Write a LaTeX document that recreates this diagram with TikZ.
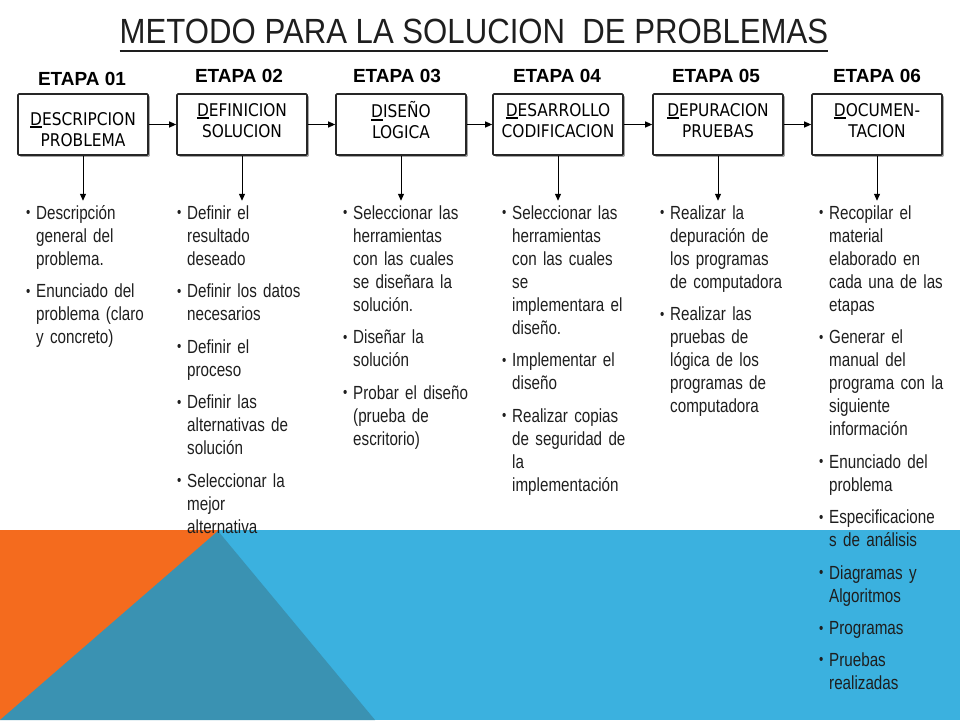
\documentclass[tikz,border=0pt]{standalone}
\usepackage{fontspec}
\setmainfont{Liberation Sans}
\newfontfamily\titlefont[FakeStretch=0.89]{Liberation Sans}
\newfontfamily\listfont[FakeStretch=0.8]{Liberation Sans}
\newfontfamily\boxfont[FakeStretch=0.88]{DejaVu Sans}
\usetikzlibrary{arrows.meta,positioning,shadows}

\definecolor{bandorange}{HTML}{F46B1E}
\definecolor{bandblue}{HTML}{3BB1DF}
\definecolor{banddark}{HTML}{3A92B2}
\definecolor{inkgray}{HTML}{1E1E1E}

% text with a heavy underline set below it
\newcommand{\heavyline}[3]{\setbox0\hbox{#1}\rlap{\rule[#2]{\wd0}{#3}}#1}
\newcommand{\stagekey}[1]{\heavyline{#1}{-2.6pt}{1.6pt}}
% one bullet of a list column
\newcommand{\bul}[1]{\makebox[10pt][l]{\raisebox{1.5pt}{\scalebox{0.8}{\textbullet}}}\begin{tabular}[t]{@{}l@{}}#1\end{tabular}}

\tikzset{
  stagebox/.style={draw=black!85, line width=1.6pt, fill=white, rounded corners=1pt,
    minimum width=130pt, minimum height=61pt,
    drop shadow={shadow xshift=1.8pt, shadow yshift=-1.8pt, fill=gray!70, opacity=1}},
  boxtext/.style={font=\boxfont\fontsize{17.5}{21}\selectfont, align=center, inner sep=0pt},
  stagelabel/.style={font=\bfseries\fontsize{19}{22}\selectfont, anchor=base, inner sep=0pt},
  steplist/.style={anchor=north west, inner sep=0pt, text width=140pt, align=left,
    font=\listfont\fontsize{19}{23}\selectfont, text=inkgray},
  flow/.style={-{Triangle[length=7pt,width=6pt]}, line width=1pt}
}

\begin{document}
\begin{tikzpicture}[x=1pt,y=-1pt]
    \useasboundingbox (0,0) rectangle (960,720);

    % bottom band
    \fill[bandorange] (0,530) rectangle (219,720);
    \fill[bandblue] (219,530) rectangle (960,720);
    \fill[banddark] (0,720) -- (218,531) -- (375,720) -- cycle;

    % title
    \node[anchor=base, inner sep=0pt, text=inkgray, font=\titlefont\fontsize{35}{40}\selectfont]
        (title) at (474,43) {\heavyline{METODO PARA LA SOLUCION\ \ DE PROBLEMAS}{-8.5pt}{2pt}};

    % stage labels
    \node[stagelabel] (etapa1) at (82,85) {ETAPA 01};
    \node[stagelabel] (etapa2) at (239,82) {ETAPA 02};
    \node[stagelabel] (etapa3) at (397,82) {ETAPA 03};
    \node[stagelabel] (etapa4) at (557,82) {ETAPA 04};
    \node[stagelabel] (etapa5) at (716,82) {ETAPA 05};
    \node[stagelabel] (etapa6) at (877,82) {ETAPA 06};

    % stage boxes
    \node[stagebox] (box1) at (83,124.5) {};
    \node[stagebox] (box2) at (242,124.5) {};
    \node[stagebox] (box3) at (401,124.5) {};
    \node[stagebox] (box4) at (558,124.5) {};
    \node[stagebox] (box5) at (718,124.5) {};
    \node[stagebox] (box6) at (877,124.5) {};

    \node[boxtext] (name1) at ([yshift=-5pt]box1.center) {\stagekey{D}ESCRIPCION\\PROBLEMA};
    \node[boxtext] (name2) at ([yshift=4pt]box2.center) {\stagekey{D}EFINICION\\SOLUCION};
    \node[boxtext] (name3) at ([yshift=4pt]box3.center) {\stagekey{D}ISEÑO\\LOGICA};
    \node[boxtext] (name4) at ([yshift=4pt]box4.center) {\stagekey{D}ESARROLLO\\CODIFICACION};
    \node[boxtext] (name5) at ([yshift=4pt]box5.center) {\stagekey{D}EPURACION\\PRUEBAS};
    \node[boxtext] (name6) at ([yshift=4pt]box6.center) {\stagekey{D}OCUMEN-\\TACION};

    % flow between stages
    \foreach \a/\b in {box1/box2, box2/box3, box3/box4, box4/box5, box5/box6}
        \draw[flow] (\a) -- (\b);
    \foreach \i in {1,...,6} {
        \coordinate (end\i) at ([yshift=-45pt]box\i.south);
        \draw[flow] (box\i.south) -- (end\i);
    }

    % task lists
    \node[steplist] (list1) at (26,203) {%
        \bul{Descripción\\general del\\problema.}\\[8.5pt]
        \bul{Enunciado del\\problema (claro\\y concreto)}};
    \node[steplist] (list2) at (177,203) {%
        \bul{Definir el\\resultado\\deseado}\\[8.5pt]
        \bul{Definir los datos\\necesarios}\\[8.5pt]
        \bul{Definir el\\proceso}\\[8.5pt]
        \bul{Definir las\\alternativas de\\solución}\\[8.5pt]
        \bul{Seleccionar la\\mejor\\alternativa}};
    \node[steplist] (list3) at (343,203) {%
        \bul{Seleccionar las\\herramientas\\con las cuales\\se diseñara la\\solución.}\\[8.5pt]
        \bul{Diseñar la\\solución}\\[8.5pt]
        \bul{Probar el diseño\\(prueba de\\escritorio)}};
    \node[steplist] (list4) at (502,203) {%
        \bul{Seleccionar las\\herramientas\\con las cuales\\se\\implementara el\\diseño.}\\[8.5pt]
        \bul{Implementar el\\diseño}\\[8.5pt]
        \bul{Realizar copias\\de seguridad de\\la\\implementación}};
    \node[steplist] (list5) at (660,203) {%
        \bul{Realizar la\\depuración de\\los programas\\de computadora}\\[8.5pt]
        \bul{Realizar las\\pruebas de\\lógica de los\\programas de\\computadora}};
    \node[steplist] (list6) at (819,203) {%
        \bul{Recopilar el\\material\\elaborado en\\cada una de las\\etapas}\\[8.5pt]
        \bul{Generar el\\manual del\\programa con la\\siguiente\\información}\\[8.5pt]
        \bul{Enunciado del\\problema}\\[8.5pt]
        \bul{Especificacione\\s de análisis}\\[8.5pt]
        \bul{Diagramas y\\Algoritmos}\\[8.5pt]
        \bul{Programas}\\[8.5pt]
        \bul{Pruebas\\realizadas}};
\end{tikzpicture}
\end{document}
